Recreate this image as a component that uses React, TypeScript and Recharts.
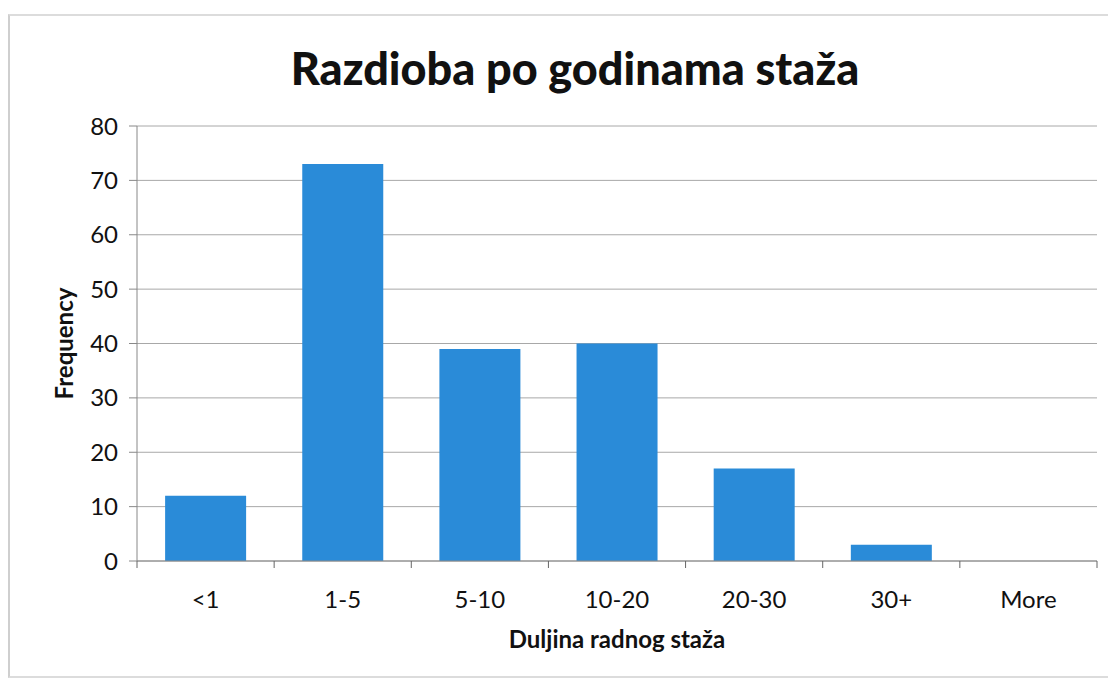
import { Bar, BarChart, CartesianGrid, XAxis, YAxis } from "recharts"

const categories = ["<1", "1-5", "5-10", "10-20", "20-30", "30+", "More"]
const frequency = [12, 73, 39, 40, 17, 3, 0]
const yTicks = [0, 10, 20, 30, 40, 50, 60, 70, 80]

const data = categories.map((name, i) => ({ name, total: frequency[i] }))

const W = 1108
const H = 664
const M = { top: 112, right: 19, left: 0, bottom: 0 }
const Y_W = 129
const band = (W - M.left - Y_W - M.right) / categories.length

const font = "Lato, 'Open Sans', sans-serif"

function XTick(props: any) {
  const { x, y, payload, index } = props
  const left = x - band / 2
  const last = index === categories.length - 1
  return (
    <g>
      <line x1={left} x2={left} y1={y} y2={y + 7} stroke="#666" />
      {last && <line x1={x + band / 2} x2={x + band / 2} y1={y} y2={y + 7} stroke="#666" />}
      <text x={x} y={y + 47} textAnchor="middle" fontSize={24} fill="#111" fontFamily={font}>
        {payload.value}
      </text>
    </g>
  )
}

export default function App() {
  return (
    <div
      style={{
        position: "relative",
        marginTop: 6,
        width: W,
        height: H,
        borderLeft: "2px solid #cfcfcf",
        borderTop: "2px solid #dcdcdc",
        borderBottom: "2px solid #dcdcdc",
        boxSizing: "border-box",
        background: "#fff",
        fontFamily: font,
      }}
    >
      <div
        style={{
          position: "absolute",
          top: 25,
          left: 0,
          width: 1130,
          textAlign: "center",
          fontSize: 45,
          fontWeight: 900,
          color: "#111",
        }}
      >
        Razdioba po godinama staža
      </div>
      <div style={{ position: "absolute", top: -2, left: -2 }}>
        <BarChart width={W} height={H} data={data} margin={M} barCategoryGap="20.5%">
          <CartesianGrid vertical={false} stroke="#a8a8a8" />
          <XAxis
            dataKey="name"
            height={117}
            tickSize={0}
            tickMargin={0}
            tick={<XTick />}
            interval={0}
            stroke="#888"
            label={{
              value: "Duljina radnog staža",
              position: "insideBottom",
              offset: 30,
              fontSize: 24,
              fontWeight: 700,
              fill: "#111",
              fontFamily: font,
            }}
          />
          <YAxis
            width={Y_W}
            domain={[0, 80]}
            ticks={yTicks}
            interval={0}
            tickSize={8}
            tickMargin={11}
            stroke="#888"
            tick={{ fontSize: 24, fill: "#111", fontFamily: font }}
            label={{
              value: "Frequency",
              angle: -90,
              position: "insideLeft",
              offset: 56,
              style: { textAnchor: "middle" },
              fontSize: 24,
              fontWeight: 700,
              fill: "#111",
              fontFamily: font,
            }}
          />
          <Bar dataKey="total" fill="#2A8BD8" isAnimationActive={false} />
        </BarChart>
      </div>
    </div>
  )
}
